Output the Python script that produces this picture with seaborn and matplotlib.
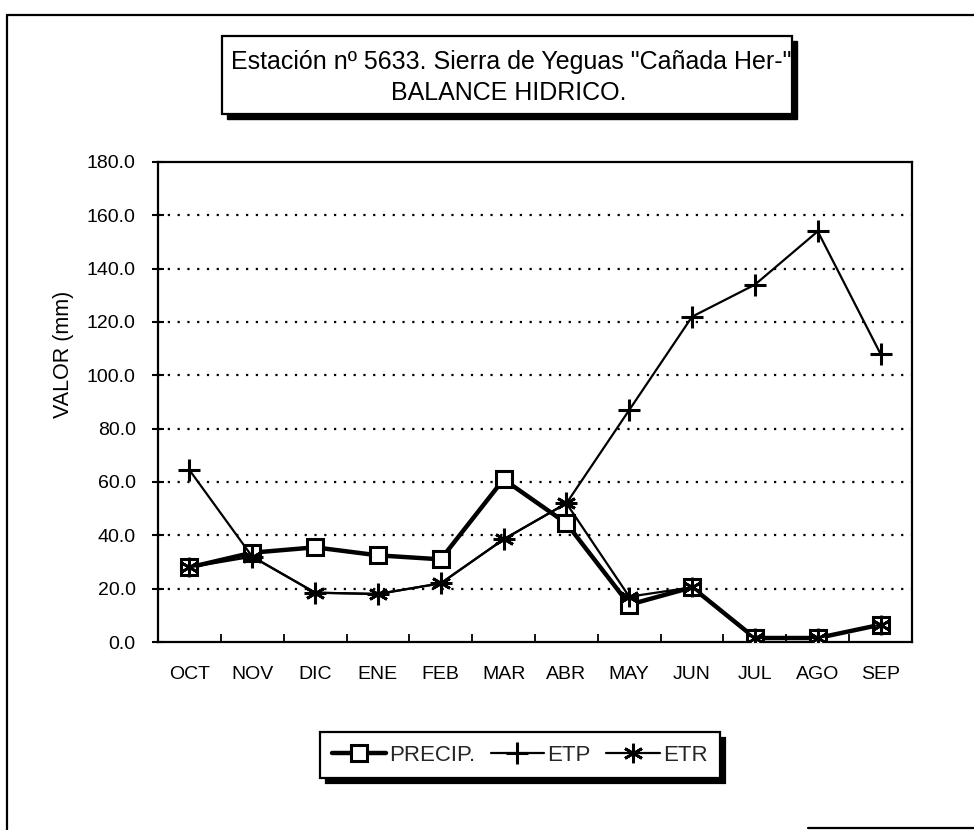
import numpy as np
import pandas as pd
import matplotlib
matplotlib.use("Agg")
import matplotlib.pyplot as plt
from matplotlib.patches import Rectangle
from matplotlib.lines import Line2D
from matplotlib.ticker import FixedLocator, FormatStrFormatter
import seaborn as sns

# Monthly water balance, hydrological year October-September (mm)
months = ["OCT", "NOV", "DIC", "ENE", "FEB", "MAR", "ABR", "MAY", "JUN", "JUL", "AGO", "SEP"]
precip = [28.0, 33.5, 35.5, 32.5, 31.0, 61.0, 44.5, 14.0, 20.5, 1.5, 1.5, 6.5]
etp = [64.5, 32.0, 18.5, 18.0, 22.0, 38.5, 52.0, 87.0, 122.0, 134.0, 154.0, 108.0]
etr = [28.0, 32.0, 18.5, 18.0, 22.0, 38.5, 52.0, 17.0, 20.5, 1.5, 1.5, 6.5]
yticks = [0, 20, 40, 60, 80, 100, 120, 140, 160, 180]

title_lines = ['Estación nº 5633. Sierra de Yeguas "Cañada Her-"', "BALANCE HIDRICO."]
ylabel = "VALOR (mm)"

sns.set_theme(style="white")
plt.rcParams["font.family"] = ["Liberation Sans", "DejaVu Sans"]

W, H = 974, 830
fig = plt.figure(figsize=(W / 100, H / 100), dpi=100)
fig.patch.set_facecolor("white")


def fx(px):
    return px / W


def fy(py):
    return 1 - py / H


# plot area
ax = fig.add_axes([fx(158), fy(642), fx(912) - fx(158), fy(162) - fy(642)])
ax.set_facecolor("white")

df = pd.DataFrame({"mes": np.arange(len(months)), "PRECIP.": precip, "ETP": etp, "ETR": etr})

sns.lineplot(data=df, x="mes", y="PRECIP.", ax=ax, color="black", linewidth=3.2,
             marker="s", markersize=11, markerfacecolor="white", markeredgecolor="black",
             markeredgewidth=2.2, label="PRECIP.", zorder=3)
sns.lineplot(data=df, x="mes", y="ETP", ax=ax, color="black", linewidth=1.6,
             marker="+", markersize=16, markeredgecolor="black", markeredgewidth=2.2,
             label="ETP", zorder=4)
sns.lineplot(data=df, x="mes", y="ETR", ax=ax, color="black", linewidth=1.6,
             marker=(6, 2, 0), markersize=14, markeredgecolor="black", markeredgewidth=2.0,
             label="ETR", zorder=5)

ax.set_xlim(-0.5, len(months) - 0.5)
ax.set_ylim(0, 180)

# dotted horizontal gridlines
for v in yticks[1:-1]:
    ax.axhline(v, color="black", linewidth=1.6, linestyle=(0, (1.0, 3.4)), zorder=1)

for s in ax.spines.values():
    s.set_visible(True)
    s.set_color("black")
    s.set_linewidth(1.6)

ax.yaxis.set_major_locator(FixedLocator(yticks))
ax.yaxis.set_major_formatter(FormatStrFormatter("%.1f"))
ax.tick_params(axis="y", which="major", direction="inout", length=8, width=1.5,
               pad=12, labelsize=14, left=True, colors="black")

ax.set_xticks(np.arange(len(months)))
ax.set_xticklabels(months)
ax.xaxis.set_minor_locator(FixedLocator(np.arange(len(months) + 1) - 0.5))
ax.tick_params(axis="x", which="major", length=0, pad=17, labelsize=14, colors="black")
ax.tick_params(axis="x", which="minor", direction="in", length=6, width=1.3,
               bottom=True, colors="black")

ax.set_xlabel("")
ax.set_ylabel(ylabel, fontsize=15.5, color="black")
ax.yaxis.set_label_coords(-0.112, 0.6)

# legend with solid shadow
leg = ax.legend(loc="center", bbox_to_anchor=(fx(520), fy(755)), bbox_transform=fig.transFigure,
                ncol=3, frameon=True, fancybox=False, edgecolor="black", fontsize=16,
                handlelength=2.4, handletextpad=0.15, columnspacing=0.7, borderpad=0.55,
                borderaxespad=0, shadow={"color": "black", "alpha": 1.0, "ox": 4, "oy": -4})
leg.get_frame().set_linewidth(1.6)
leg.get_frame().set_facecolor("white")

# title box with solid shadow
bx0, by0, bx1, by1 = 222, 36, 792, 114
fig.patches.append(Rectangle((fx(bx0 + 5), fy(by1 + 5)), fx(bx1) - fx(bx0), fy(by0) - fy(by1),
                             transform=fig.transFigure, facecolor="black", edgecolor="black", zorder=1))
fig.patches.append(Rectangle((fx(bx0), fy(by1)), fx(bx1) - fx(bx0), fy(by0) - fy(by1),
                             transform=fig.transFigure, facecolor="white", edgecolor="black",
                             linewidth=1.6, zorder=2))
fig.text(fx(511), fy(62), title_lines[0], ha="center", va="center", fontsize=18, color="black", zorder=3)
fig.text(fx(509), fy(93), title_lines[1], ha="center", va="center", fontsize=18, color="black", zorder=3)

# outer frame
fig.lines.append(Line2D([fx(7), fx(974)], [fy(15), fy(15)], transform=fig.transFigure, color="black", linewidth=1.6))
fig.lines.append(Line2D([fx(7), fx(7)], [fy(15), fy(830)], transform=fig.transFigure, color="black", linewidth=1.6))
fig.lines.append(Line2D([fx(808), fx(974)], [fy(828), fy(828)], transform=fig.transFigure, color="black", linewidth=1.6))

fig.savefig("out.png", dpi=100, facecolor="white")
